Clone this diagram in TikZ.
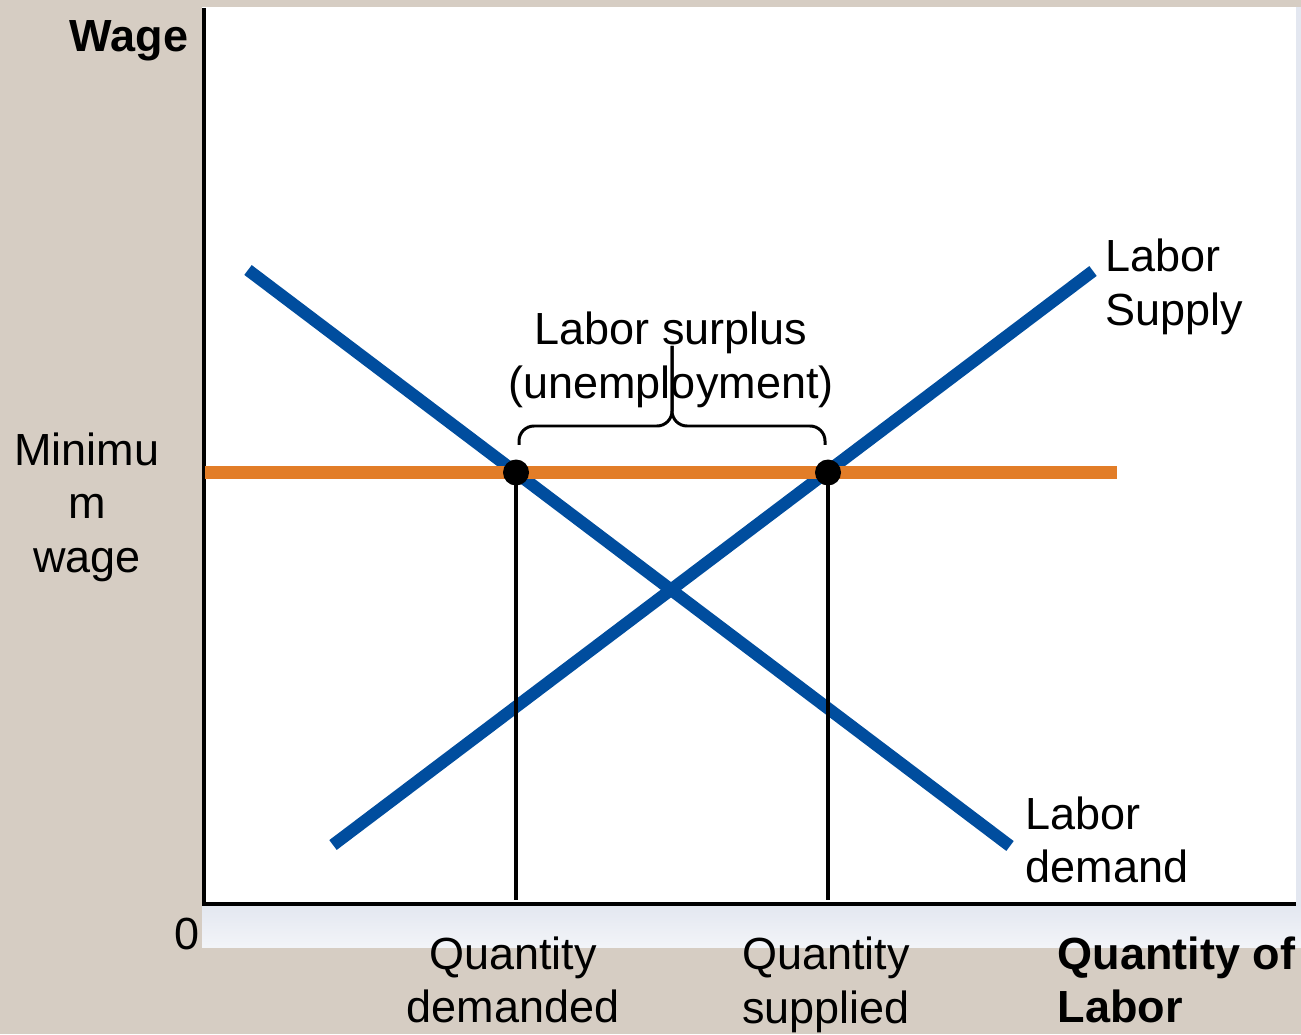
\documentclass[tikz,border=0pt]{standalone}
\usepackage{fontspec}
\setmainfont{Liberation Sans}
\definecolor{wagebg}{RGB}{214,205,195}
\definecolor{bandgrey}{RGB}{227,231,240}
\definecolor{curveblue}{RGB}{0,77,158}
\definecolor{floororange}{RGB}{226,125,40}
\begin{document}
\begin{tikzpicture}[x=0.01cm, y=-0.01cm, inner sep=0pt, font=\fontsize{12.8}{15.2}\selectfont]
  \fill[wagebg] (0,0) rectangle (1301,1034);
  \useasboundingbox (0,0) rectangle (1301,1034);
  \fill[white] (202,7) rectangle (1296,905);
  \fill[bandgrey] (1296,7) rectangle (1301,947);
  \shade[top color=bandgrey, bottom color=bandgrey!45!white] (202,905) rectangle (1301,947);
  % axes
  \coordinate (O) at (204,904);
  \coordinate (Ytop) at (204,8);
  \coordinate (Xend) at (1296,904);
  \draw [line width=1.3pt] (Ytop) -- (O) -- (Xend);
  % curves
  \coordinate (D1) at (248,270);
  \coordinate (D2) at (1010,846);
  \coordinate (S1) at (333,845);
  \coordinate (S2) at (1093,271);
  \coordinate (W1) at (205,472.5);
  \coordinate (W2) at (1117,472.5);
  \draw [curveblue, line width=3.5pt] (D1) -- (D2);
  \draw [curveblue, line width=3.5pt] (S1) -- (S2);
  \draw [floororange, line width=3.7pt] (W1) -- (W2);
  % quantities at the minimum wage
  \coordinate (Qd) at (516,472.5);
  \coordinate (Qs) at (828,472.5);
  \coordinate (Qdb) at (516,900);
  \coordinate (Qsb) at (828,900);
  \draw [line width=1.1pt] (Qd) -- (Qdb);
  \draw [line width=1.1pt] (Qs) -- (Qsb);
  \fill (Qd) circle [radius=13];
  \fill (Qs) circle [radius=13];
  % brace
  \coordinate (BL) at (519,445);
  \coordinate (BR) at (825,445);
  \coordinate (Bmid) at (672,426);
  \coordinate (Btip) at (672,346);
  \draw [line width=0.85pt, rounded corners=0.15cm] (BL) |- (Bmid) -- (Btip);
  \draw [line width=0.85pt, rounded corners=0.15cm] (BR) |- (Bmid) -- (Btip);
  % labels
  \node (wage) [anchor=east, font=\fontsize{12.8}{15.2}\selectfont\bfseries] at (189,41) {Wage};
  \node (minw) [align=center] at (87,507) {Minimu\\m\\wage};
  \node (zero) at (187,934) {0};
  \node (qdlab) [align=center] at (513,980) {Quantity\\demanded};
  \node (qslab) [align=center] at (826,985) {Quantity\\supplied};
  \node (qlab) [anchor=west, align=left, font=\fontsize{12.8}{15.2}\selectfont\bfseries] at (1057,980) {Quantity of\\Labor};
  \node (suplab) [anchor=west, align=left] at (1105,287) {Labor\\Supply};
  \node (demlab) [anchor=west, align=left] at (1025,840) {Labor\\demand};
  \node (surplus) [align=center] at (671,360) {Labor surplus\\(unemployment)};
\end{tikzpicture}
\end{document}
